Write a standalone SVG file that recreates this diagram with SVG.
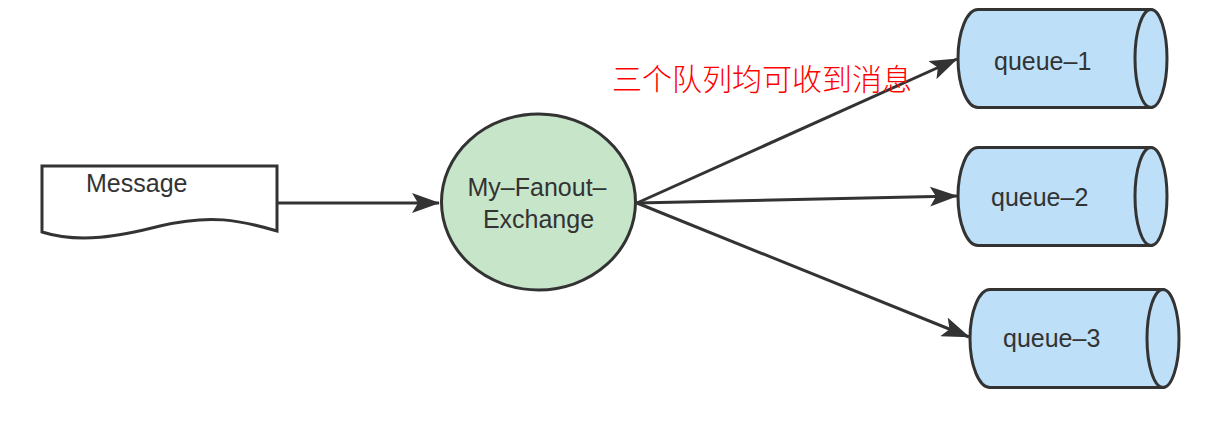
<svg xmlns="http://www.w3.org/2000/svg" width="1226" height="422" viewBox="0 0 1226 422">
<style>
.s{stroke:#333;stroke-width:3;}
.t{font-family:"Liberation Sans",Arial,sans-serif;font-size:25px;fill:#333;}
.q{fill:#bde0f8;}
.c{stroke:#333;stroke-width:3;fill:none;}
</style>
<defs>
<marker id="ah" viewBox="0 0 28 20" refX="27" refY="10" markerWidth="28" markerHeight="20" markerUnits="userSpaceOnUse" orient="auto">
<path d="M0,0 L28,10 L0,20 L6,10 Z" fill="#333"/>
</marker>
</defs>
<rect width="1226" height="422" fill="#fff"/>
<g id="connectors">
<line class="c" x1="277" y1="203" x2="439" y2="203" marker-end="url(#ah)"/>
<line class="c" x1="637" y1="203" x2="957" y2="59" marker-end="url(#ah)"/>
<line class="c" x1="637" y1="203" x2="957" y2="196" marker-end="url(#ah)"/>
<line class="c" x1="637" y1="203" x2="969" y2="337" marker-end="url(#ah)"/>
</g>
<g id="message">
<path class="s" fill="#fff" d="M42,166 L277,166 L277,231 C240,220 210,214 160,226 C120,236 80,244 42,232 Z"/>
<text class="t" x="86" y="192">Message</text>
</g>
<g id="exchange">
<ellipse class="s" fill="#c7e5c9" cx="538.5" cy="202" rx="97" ry="88"/>
<text class="t" x="537" y="196" text-anchor="middle">My‒Fanout‒</text>
<text class="t" x="538.5" y="228" text-anchor="middle">Exchange</text>
</g>
<g id="queue1">
<path class="s q" d="M978,9.5 L1151,9.5 L1151,107.5 L978,107.5 A20,49 0 0 1 978,9.5 Z"/>
<ellipse class="s q" cx="1151" cy="58.5" rx="16" ry="49"/>
<text class="t" x="994" y="70">queue‒1</text>
</g>
<g id="queue2">
<path class="s q" d="M978,147.5 L1151,147.5 L1151,245.5 L978,245.5 A20,49 0 0 1 978,147.5 Z"/>
<ellipse class="s q" cx="1151" cy="196.5" rx="16" ry="49"/>
<text class="t" x="991" y="206">queue‒2</text>
</g>
<g id="queue3">
<path class="s q" d="M990,289.5 L1163,289.5 L1163,387.5 L990,387.5 A20,49 0 0 1 990,289.5 Z"/>
<ellipse class="s q" cx="1163" cy="338.5" rx="16" ry="49"/>
<text class="t" x="1003" y="347">queue‒3</text>
</g>
<g id="label">
<text x="612" y="90" style="font-family:'Noto Sans CJK SC',sans-serif;font-size:30px;font-weight:300;fill:#ff0000;">三个队列均可收到消息</text>
</g>
</svg>
